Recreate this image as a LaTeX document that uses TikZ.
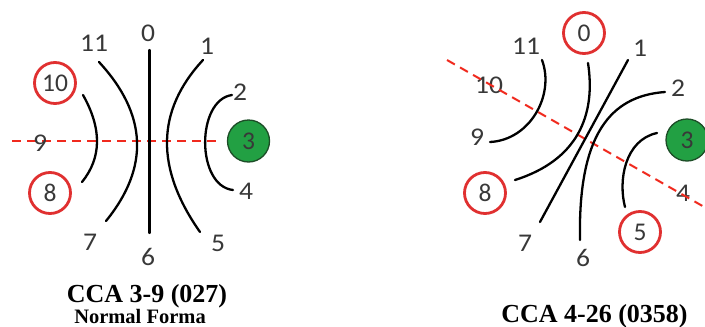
\documentclass[tikz,border=0pt]{standalone}
\usepackage{fontspec}
\newfontfamily\numfont{Carlito}
\newfontfamily\titlefont{Liberation Serif}
\definecolor{numgray}{HTML}{383838}
\definecolor{ringred}{HTML}{E03030}
\definecolor{dashred}{HTML}{F02A1E}
\definecolor{greenfill}{HTML}{22A043}
\definecolor{greenedge}{HTML}{1D4D27}
\tikzset{
  lbl/.style={font=\numfont\fontsize{25.5}{25.5}\selectfont, text=numgray, inner sep=0pt, xscale=1.08},
  redc/.style={lbl, circle, draw=ringred, line width=2.8pt, minimum size=41pt, xscale=1/1.08},
  greenc/.style={lbl, circle, draw=greenedge, fill=greenfill, line width=1.3pt, minimum size=42pt, xscale=1/1.08},
  chord/.style={draw=black, line width=2.3pt, line cap=round},
  axisline/.style={draw=dashred, line width=2pt, dash pattern=on 9pt off 6pt},
  ttl/.style={font=\titlefont\bfseries\fontsize{26}{26}\selectfont, inner sep=0pt, anchor=base}
}
\begin{document}
\begin{tikzpicture}[x=1pt,y=-1pt]
\useasboundingbox (0,0) rectangle (705,327);
% ---------- left diagram ----------
\coordinate (La) at (12,141);
\coordinate (Lb) at (221,141);
\draw[axisline] (La) -- (Lb);
\node[lbl] (l11) at (94,43) {11};
\node[lbl] (l0) at (148,33) {0};
\node[lbl] (l1) at (207,46) {1};
\node[redc] (l10) at (55,83) {10};
\node[lbl] (l2) at (240,92) {2};
\node[lbl] (l9) at (40,143) {9};
\node[greenc] (l3) at (248.5,141) {3};
\node[redc] (l8) at (50,193) {8};
\node[lbl] (l4) at (246,191) {4};
\node[lbl] (l7) at (90,242) {7};
\node[lbl] (l6) at (148,257) {6};
\node[lbl] (l5) at (218,243) {5};
\coordinate (v0) at (149.5,50);
\coordinate (v6) at (149.5,233);
\draw[chord] (v0) -- (v6);
\draw[chord] (99,62) .. controls (147.3,114.3) and (149.7,167.3) .. (106,221);
\draw[chord] (203,60) .. controls (156,110.7) and (155,168) .. (200,232);
\draw[chord] (83,95) .. controls (102,128.7) and (101.7,157.7) .. (82,182);
\draw[chord] (232,95) .. controls (196,100) and (196,186) .. (233,190);
\node[ttl] (t1) at (147,302) {CCA 3-9 (027)};
\node[ttl, font=\titlefont\bfseries\fontsize{20.5}{20.5}\selectfont] (t2) at (140,323) {Normal Forma};
% ---------- right diagram ----------
\coordinate (Ra) at (447,60);
\coordinate (Rb) at (706,208);
\node[lbl] (r11) at (526,46) {11};
\node[redc] (r0) at (584,33) {0};
\node[lbl] (r1) at (640,48) {1};
\node[lbl] (r10) at (489,85) {10};
\node[lbl] (r2) at (678,88) {2};
\node[lbl] (r9) at (477,137) {9};
\node[greenc] (r3) at (687,140) {3};
\node[redc] (r8) at (485,193) {8};
\node[lbl] (r4) at (683,193) {4};
\node[lbl] (r7) at (525,243) {7};
\node[lbl] (r6) at (583,258) {6};
\node[redc] (r5) at (640,232) {5};
\draw[axisline] (Ra) -- (Rb);
\draw[chord] (542,60) .. controls (555,95) and (530,140) .. (490,142);
\draw[chord] (588,63) .. controls (596,115) and (578,160) .. (515,180);
\draw[chord] (628,60) -- (540,222);
\draw[chord] (665,92) .. controls (610,96) and (578,135) .. (580,240);
\draw[chord] (657,133) .. controls (625,140) and (618,180) .. (625,207);
\node[ttl] (t3) at (594.5,322) {CCA 4-26 (0358)};
\end{tikzpicture}
\end{document}
